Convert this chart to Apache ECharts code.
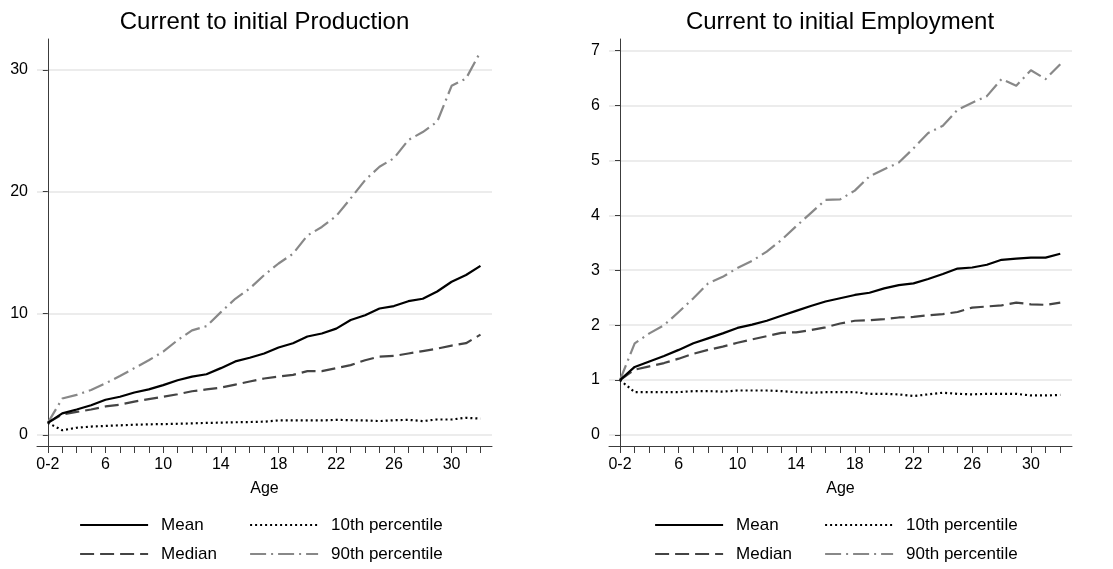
<!DOCTYPE html>
<html>
<head>
<meta charset="utf-8">
<script src="https://cdn.jsdelivr.net/npm/echarts@6/dist/echarts.min.js"></script>
<style>
html,body{margin:0;padding:0;background:#fff;}
#c{width:1113px;height:569px;}
</style>
</head>
<body>
<div id="c"></div>
<script>
// Age categories (tick labels)
const ages = ['0-2','3','4','5','6','7','8','9','10','11','12','13','14','15','16','17','18','19','20','21','22','23','24','25','26','27','28','29','30','31','32'];
const xLabelIdx = [0,4,8,12,16,20,24,28];

// Current to initial Production
const prodMean   = [1.0,1.78,2.1,2.45,2.9,3.15,3.5,3.75,4.1,4.5,4.8,5.0,5.5,6.05,6.35,6.7,7.2,7.55,8.1,8.35,8.75,9.45,9.85,10.4,10.6,11.0,11.2,11.8,12.6,13.15,13.9];
const prodMedian = [1.0,1.7,1.9,2.1,2.35,2.5,2.75,2.95,3.15,3.35,3.6,3.75,3.9,4.15,4.4,4.65,4.8,4.95,5.25,5.25,5.5,5.75,6.15,6.45,6.5,6.7,6.9,7.1,7.35,7.55,8.25];
const prodP10    = [1.0,0.4,0.6,0.7,0.75,0.8,0.85,0.88,0.9,0.93,0.96,1.0,1.02,1.05,1.07,1.1,1.2,1.2,1.2,1.2,1.25,1.22,1.2,1.15,1.22,1.25,1.15,1.28,1.28,1.42,1.35];
const prodP90    = [1.0,3.0,3.3,3.7,4.25,4.85,5.5,6.15,6.85,7.8,8.6,8.95,10.1,11.2,12.05,13.15,14.1,14.9,16.4,17.1,18.0,19.45,20.95,22.05,22.75,24.25,24.9,25.75,28.7,29.3,31.5];
const prodTicks  = [0,10,20,30];

// Current to initial Employment
const empMean   = [1.0,1.24,1.34,1.44,1.55,1.67,1.76,1.85,1.95,2.01,2.08,2.17,2.26,2.35,2.43,2.49,2.55,2.59,2.67,2.73,2.76,2.84,2.93,3.03,3.05,3.1,3.19,3.21,3.23,3.23,3.3];
const empMedian = [1.0,1.19,1.25,1.31,1.39,1.48,1.55,1.61,1.68,1.74,1.8,1.86,1.87,1.91,1.96,2.03,2.08,2.09,2.11,2.14,2.15,2.18,2.2,2.24,2.32,2.34,2.36,2.41,2.38,2.37,2.41];
const empP10    = [1.0,0.78,0.78,0.78,0.78,0.8,0.8,0.79,0.81,0.81,0.81,0.8,0.78,0.77,0.78,0.78,0.78,0.75,0.75,0.74,0.71,0.74,0.77,0.75,0.74,0.75,0.75,0.75,0.72,0.72,0.73];
const empP90    = [1.0,1.67,1.85,2.0,2.24,2.49,2.76,2.88,3.04,3.17,3.34,3.55,3.8,4.04,4.28,4.29,4.45,4.71,4.84,4.96,5.22,5.5,5.63,5.92,6.05,6.17,6.48,6.36,6.64,6.48,6.75];
const empTicks  = [0,1,2,3,4,5,6,7];

const FONT = '"Liberation Sans", Arial, sans-serif';
const AXIS_COLOR = '#3c3c3c';
const GRID_COLOR = '#e6e6e6';

const styles = {
  'Mean': {color:'#000000', width:2.2, type:'solid'},
  'Median': {color:'#444444', width:2.2, type:[14,6]},
  '10th percentile': {color:'#000000', width:2.2, type:[2,3]},
  '90th percentile': {color:'#888888', width:2.2, type:[16,5,2,5]}
};

function toXY(arr){ return arr.map((v,i)=>[i,v]); }

function xAxisCfg(gridIndex){
  return {
    type:'value', gridIndex, min:-0.75, max:30.8,
    axisLine:{show:true, onZero:false, lineStyle:{color:AXIS_COLOR, width:1}},
    axisTick:{show:true, length:7, customValues: ages.map((_,i)=>i), lineStyle:{color:AXIS_COLOR}},
    axisLabel:{customValues: xLabelIdx, formatter:(v)=>ages[Math.round(v)], fontFamily:FONT, fontSize:16, color:'#000', margin:11},
    splitLine:{show:false},
    name:'Age', nameLocation:'middle', nameGap:35,
    nameTextStyle:{fontFamily:FONT, fontSize:16, color:'#000'}
  };
}
function yAxisCfg(gridIndex, min, max, ticks){
  return {
    type:'value', gridIndex, min, max,
    axisLine:{show:true, lineStyle:{color:AXIS_COLOR, width:1}},
    axisTick:{show:true, length:5, customValues: ticks, lineStyle:{color:AXIS_COLOR}},
    axisLabel:{customValues: ticks, fontFamily:FONT, fontSize:16, color:'#000', margin:9},
    splitLine:{show:true, lineStyle:{color:GRID_COLOR, width:1.5}}
  };
}
function mkSeries(name, arr, idx){
  const s = styles[name];
  return {
    name, type:'line', xAxisIndex:idx, yAxisIndex:idx, data:toXY(arr),
    symbol:'none', showSymbol:false, silent:true, animation:false,
    lineStyle:{color:s.color, width:s.width, type:s.type, cap:'butt', join:'round'},
    itemStyle:{color:s.color}, z: name==='Mean'?5:3
  };
}
function mkLegend(left, top, names){
  return {
    left, top, orient:'vertical', itemWidth:68, itemHeight:14, itemGap:9,
    data:names, selectedMode:false, padding:0,
    itemStyle:{opacity:0},
    lineStyle:{width:2.2},
    textStyle:{fontFamily:FONT, fontSize:17, color:'#000', lineHeight:20, padding:[0,0,0,8]}
  };
}

const chart = echarts.init(document.getElementById('c'), null, {renderer:'canvas'});
chart.setOption({
  animation:false,
  backgroundColor:'#ffffff',
  title:[
    {text:'Current to initial Production', left:264.5, textAlign:'center', top:10, padding:0,
     textStyle:{fontFamily:FONT, fontSize:24, fontWeight:'normal', color:'#000'}},
    {text:'Current to initial Employment', left:840, textAlign:'center', top:10, padding:0,
     textStyle:{fontFamily:FONT, fontSize:24, fontWeight:'normal', color:'#000'}}
  ],
  grid:[
    {left:37, top:39, width:455, height:407, containLabel:false},
    {left:609, top:39, width:463, height:407, containLabel:false}
  ],
  xAxis:[xAxisCfg(0), xAxisCfg(1)],
  yAxis:[yAxisCfg(0,-0.9,32.55,prodTicks), yAxisCfg(1,-0.2,7.21,empTicks)],
  legend:[
    mkLegend(79, 515, ['Mean','Median']),
    mkLegend(249, 515, ['10th percentile','90th percentile']),
    mkLegend(654, 515, ['Mean','Median']),
    mkLegend(824, 515, ['10th percentile','90th percentile'])
  ],
  series:[
    mkSeries('90th percentile', prodP90, 0),
    mkSeries('10th percentile', prodP10, 0),
    mkSeries('Median', prodMedian, 0),
    mkSeries('Mean', prodMean, 0),
    mkSeries('90th percentile', empP90, 1),
    mkSeries('10th percentile', empP10, 1),
    mkSeries('Median', empMedian, 1),
    mkSeries('Mean', empMean, 1)
  ]
});
</script>
</body>
</html>
